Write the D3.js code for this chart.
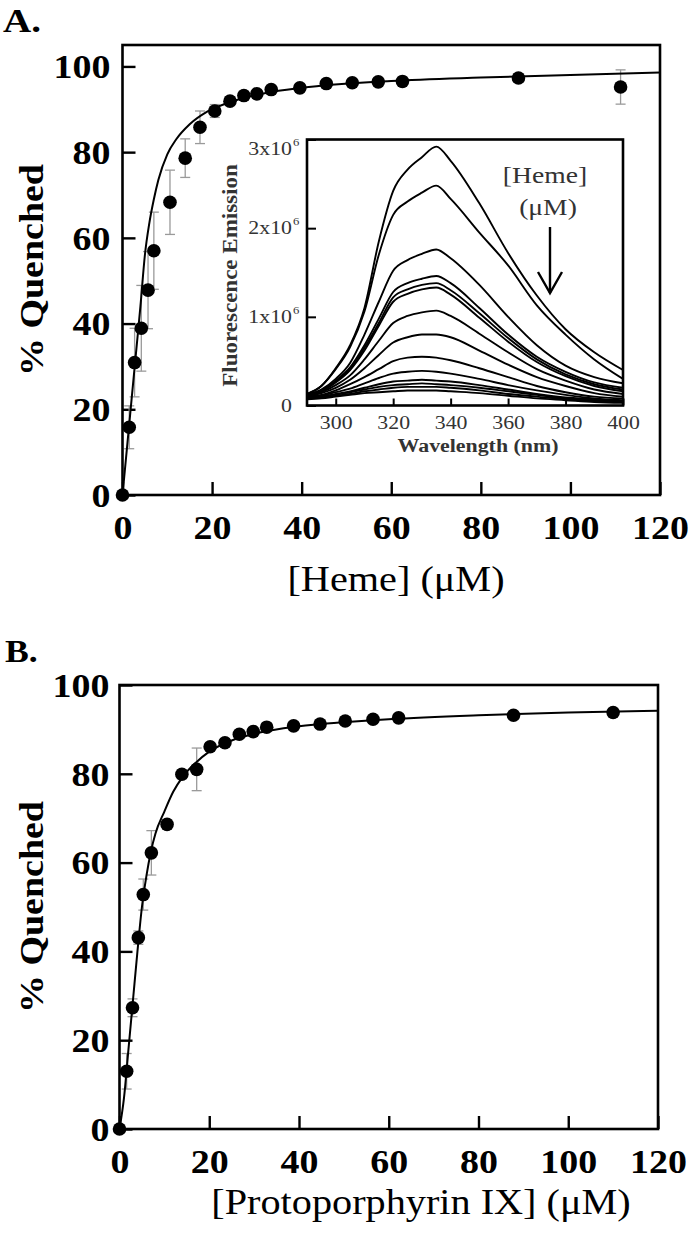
<!DOCTYPE html>
<html>
<head>
<meta charset="utf-8">
<script src="https://cdn.jsdelivr.net/npm/d3@7"></script>
<style>
  html, body { margin: 0; padding: 0; background: #fff; }
  svg { display: block; }
  text { font-family: "Liberation Serif", "Times New Roman", serif; }
</style>
</head>
<body>
<svg id="chart" width="693" height="1233"></svg>
<script>
// ---------------- DATA ----------------
// Panel A: heme titration
const hemeX   = [0, 1.5, 2.7, 4.2, 5.7, 7.0, 10.6, 14.0, 17.3, 20.6, 24.0, 27.1, 30.0, 33.2, 39.6, 45.5, 51.3, 57.1, 62.5, 88.4, 111.2];
const hemeY   = [0, 15.8, 30.9, 38.9, 47.8, 57.0, 68.3, 78.6, 85.8, 89.6, 91.9, 93.2, 93.6, 94.6, 95.0, 96.0, 96.2, 96.4, 96.5, 97.3, 95.2];
const hemeErr = [0, 5, 8, 10, 9, 9, 7.5, 4.5, 3.8, 1.5, 1, 1, 0.8, 0.8, 0.8, 0.8, 0.5, 0.5, 0.5, 1, 4];
// Panel A fitted curve
const hemeFitX = [0, 1, 2, 3, 4, 5, 6, 7, 8, 10, 12, 15, 19, 25, 32, 40, 60, 80, 100, 120];
const hemeFitY = [0, 11, 22, 33, 44, 56, 63.5, 69, 73.5, 79.5, 83, 86.5, 89.5, 92, 93.8, 95, 96.6, 97.4, 98, 98.6];

// Panel B: protoporphyrin IX titration
const ppX   = [0, 1.6, 2.9, 4.2, 5.3, 7.1, 10.6, 13.9, 17.2, 20.2, 23.5, 26.7, 29.8, 32.8, 38.8, 44.7, 50.3, 56.5, 62.2, 87.8, 110.0];
const ppY   = [0, 13, 27.3, 43.1, 52.8, 62.2, 68.6, 79.9, 81, 86.1, 87, 88.9, 89.5, 90.5, 90.8, 91.2, 91.9, 92.3, 92.6, 93.2, 93.8];
const ppErr = [0, 4, 2, 1.5, 3.5, 5, 1, 1, 4.8, 0.8, 0.8, 0.8, 0.8, 0.8, 0.8, 0.8, 0.8, 0.8, 0.8, 0.8, 0.8];
const ppFitX = [0, 1, 2, 3, 4, 5, 6, 7, 8, 10, 12, 14, 17, 20, 25, 30, 40, 50, 60, 80, 100, 120];
const ppFitY = [0, 7, 18, 29, 40, 50, 57, 62.5, 66.5, 71.5, 76, 79.2, 82.5, 85, 87.5, 89, 90.7, 91.6, 92.3, 93.2, 93.8, 94.2];

// Inset: fluorescence spectra (units of 10^6), one array per heme concentration
const wavelengths = [290, 295, 300, 305, 310, 315, 320, 325, 330, 335, 340, 350, 360, 370, 380, 390, 400];
const spec01 = [0.13, 0.22, 0.42, 0.68, 1.10, 1.85, 2.42, 2.66, 2.80, 2.92, 2.76, 2.28, 1.72, 1.24, 0.86, 0.60, 0.40];
const spec02 = [0.13, 0.22, 0.41, 0.66, 1.06, 1.70, 2.15, 2.30, 2.40, 2.48, 2.33, 1.95, 1.58, 1.13, 0.80, 0.52, 0.30];
const spec03 = [0.12, 0.18, 0.30, 0.48, 0.80, 1.17, 1.52, 1.64, 1.71, 1.76, 1.66, 1.36, 1.00, 0.68, 0.45, 0.32, 0.25];
const spec04 = [0.12, 0.17, 0.28, 0.43, 0.68, 0.98, 1.28, 1.38, 1.43, 1.46, 1.38, 1.10, 0.80, 0.55, 0.38, 0.26, 0.20];
const spec05 = [0.12, 0.17, 0.27, 0.41, 0.65, 0.93, 1.22, 1.31, 1.36, 1.38, 1.30, 1.04, 0.76, 0.52, 0.35, 0.24, 0.18];
const spec06 = [0.11, 0.16, 0.26, 0.40, 0.62, 0.90, 1.17, 1.26, 1.31, 1.33, 1.25, 0.99, 0.72, 0.49, 0.33, 0.22, 0.16];
const spec07 = [0.11, 0.15, 0.23, 0.34, 0.52, 0.73, 0.93, 1.01, 1.05, 1.07, 1.01, 0.81, 0.60, 0.41, 0.28, 0.18, 0.13];
const spec08 = [0.10, 0.14, 0.20, 0.29, 0.42, 0.57, 0.71, 0.77, 0.80, 0.80, 0.77, 0.62, 0.46, 0.32, 0.22, 0.14, 0.10];
const spec09 = [0.10, 0.12, 0.17, 0.24, 0.32, 0.41, 0.50, 0.54, 0.55, 0.54, 0.51, 0.42, 0.32, 0.22, 0.15, 0.10, 0.08];
const spec10 = [0.09, 0.11, 0.15, 0.19, 0.25, 0.31, 0.36, 0.38, 0.39, 0.38, 0.36, 0.30, 0.23, 0.17, 0.12, 0.08, 0.06];
const spec11 = [0.09, 0.10, 0.13, 0.16, 0.20, 0.24, 0.27, 0.28, 0.29, 0.28, 0.27, 0.23, 0.18, 0.13, 0.09, 0.07, 0.05];
const spec12 = [0.08, 0.10, 0.12, 0.15, 0.18, 0.21, 0.23, 0.24, 0.25, 0.24, 0.23, 0.20, 0.16, 0.12, 0.08, 0.06, 0.05];
const spec13 = [0.08, 0.09, 0.11, 0.13, 0.16, 0.18, 0.20, 0.21, 0.21, 0.21, 0.20, 0.17, 0.13, 0.10, 0.07, 0.05, 0.04];
const spec14 = [0.07, 0.08, 0.10, 0.12, 0.14, 0.15, 0.16, 0.17, 0.17, 0.17, 0.16, 0.14, 0.11, 0.08, 0.06, 0.04, 0.03];
const spectra = [spec01, spec02, spec03, spec04, spec05, spec06, spec07, spec08, spec09, spec10, spec11, spec12, spec13, spec14];

// Tick values / labels
const mainXTicks = [0, 20, 40, 60, 80, 100, 120];
const mainYTicks = [0, 20, 40, 60, 80, 100];
const insetXTicks = [300, 320, 340, 360, 380, 400];
const insetYTicks = [0, 1, 2, 3];
const insetYTickText = ["0", "1x10", "2x10", "3x10"];
const insetYTickSup  = ["", "6", "6", "6"];

// Texts
const labelA = "A.";
const labelB = "B.";
const yTitle = "% Quenched";
const xTitleA = "[Heme] (\u03bcM)";
const xTitleB = "[Protoporphyrin IX] (\u03bcM)";
const insetXTitle = "Wavelength (nm)";
const insetYTitle = "Fluorescence Emission";
const insetNote1 = "[Heme]";
const insetNote2 = "(\u03bcM)";

// ---------------- DRAW ----------------
const SX = 1.15; // horizontal stretch of the lettering
const svg = d3.select("#chart");

function stext(parent, x, y, str, size, weight, anchor, rot, fill) {
  const g = parent.append("g").attr("transform", `translate(${x},${y}) rotate(${rot || 0}) scale(${SX},1)`);
  return g.append("text").attr("x", 0).attr("y", 0)
    .attr("font-size", size).attr("font-weight", weight || "normal")
    .attr("text-anchor", anchor || "start").attr("fill", fill || "#000").text(str);
}

function mainPanel(cfg) {
  const g = svg.append("g");
  const x = d3.scaleLinear().domain([0, 120]).range([cfg.left, cfg.right]);
  const y = d3.scaleLinear().domain([0, cfg.ymax]).range([cfg.bottom, cfg.top]);

  // axes with inward ticks
  const ya = g.append("g").attr("transform", `translate(${cfg.left},0)`)
    .call(d3.axisLeft(y).tickValues(mainYTicks).tickSizeInner(-13).tickSizeOuter(0).tickFormat(d3.format("d")));
  const xa = g.append("g").attr("transform", `translate(0,${cfg.bottom})`)
    .call(d3.axisBottom(x).tickValues(mainXTicks).tickSizeInner(-13).tickSizeOuter(0).tickFormat(d3.format("d")));
  [ya, xa].forEach(a => {
    a.select(".domain").remove();
    a.selectAll(".tick line").attr("stroke", "#000").attr("stroke-width", 2.4);
    a.selectAll(".tick text").attr("font-family", "Liberation Serif, serif")
      .attr("font-size", 33).attr("font-weight", "bold").attr("fill", "#000")
      .attr("transform", `scale(${SX},1)`);
  });
  ya.selectAll(".tick text").attr("x", -cfg.ygap / SX).attr("dy", "0.34em");
  xa.selectAll(".tick text").attr("y", 44).attr("dy", 0);

  // frame
  g.append("rect").attr("x", cfg.left).attr("y", cfg.top)
    .attr("width", cfg.right - cfg.left).attr("height", cfg.bottom - cfg.top)
    .attr("fill", "none").attr("stroke", "#000").attr("stroke-width", 2.6);

  // error bars
  const eb = g.append("g").attr("stroke", "#9a9a9a").attr("stroke-width", 1.3);
  cfg.xs.forEach((xv, i) => {
    const e = cfg.err[i];
    if (!e) return;
    const cx = x(xv), y1 = y(cfg.ys[i] - e), y2 = y(cfg.ys[i] + e);
    eb.append("line").attr("x1", cx).attr("x2", cx).attr("y1", y1).attr("y2", y2);
    eb.append("line").attr("x1", cx - 5).attr("x2", cx + 5).attr("y1", y1).attr("y2", y1);
    eb.append("line").attr("x1", cx - 5).attr("x2", cx + 5).attr("y1", y2).attr("y2", y2);
  });

  // fit curve
  const line = d3.line().x(d => x(d[0])).y(d => y(d[1])).curve(d3.curveMonotoneX);
  g.append("path").datum(cfg.fitX.map((v, i) => [v, cfg.fitY[i]]))
    .attr("d", line).attr("fill", "none").attr("stroke", "#000").attr("stroke-width", 2);

  // points
  g.append("g").selectAll("circle").data(cfg.xs.map((v, i) => [v, cfg.ys[i]])).join("circle")
    .attr("cx", d => x(d[0])).attr("cy", d => y(d[1])).attr("r", 6.8).attr("fill", "#000");

  // titles
  stext(g, cfg.titleX, cfg.titleY, cfg.xTitle, 35, "normal", "middle");
  stext(g, 43, (cfg.top + cfg.bottom) / 2, yTitle, 33, "bold", "middle", -90);
  stext(g, cfg.labelX, cfg.labelY, cfg.label, cfg.labelSize, "bold", "start");
  return g;
}

mainPanel({left: 122.5, right: 660, top: 45, bottom: 495, ymax: 105, ygap: 12,
  xs: hemeX, ys: hemeY, err: hemeErr, fitX: hemeFitX, fitY: hemeFitY,
  xTitle: xTitleA, titleX: 396, titleY: 591, label: labelA, labelX: 3, labelY: 32, labelSize: 34});

mainPanel({left: 119.5, right: 658, top: 685, bottom: 1129, ymax: 100, ygap: 10,
  xs: ppX, ys: ppY, err: ppErr, fitX: ppFitX, fitY: ppFitY,
  xTitle: xTitleB, titleX: 421, titleY: 1214, label: labelB, labelX: 5, labelY: 662, labelSize: 31});

// ---------------- INSET ----------------
const ins = {left: 307, right: 623, top: 139.5, bottom: 405.5};
const gi = svg.append("g");
gi.append("rect").attr("x", ins.left).attr("y", ins.top).attr("width", ins.right - ins.left)
  .attr("height", ins.bottom - ins.top).attr("fill", "#fff");
const xi = d3.scaleLinear().domain([290, 400]).range([ins.left, ins.right]);
const yi = d3.scaleLinear().domain([0, 3]).range([ins.bottom, ins.top]);

gi.append("clipPath").attr("id", "insclip").append("rect")
  .attr("x", ins.left).attr("y", ins.top).attr("width", ins.right - ins.left).attr("height", ins.bottom - ins.top);
const specLine = d3.line().x((d, i) => xi(wavelengths[i])).y(d => yi(d)).curve(d3.curveMonotoneX);
gi.append("g").attr("clip-path", "url(#insclip)").selectAll("path").data(spectra).join("path")
  .attr("d", specLine).attr("fill", "none").attr("stroke", "#000").attr("stroke-width", 1.9);

const xia = gi.append("g").attr("transform", `translate(0,${ins.bottom})`)
  .call(d3.axisBottom(xi).tickValues(insetXTicks).tickSizeInner(-7).tickSizeOuter(0).tickFormat(d3.format("d")));
const yia = gi.append("g").attr("transform", `translate(${ins.left},0)`)
  .call(d3.axisLeft(yi).tickValues(insetYTicks).tickSizeInner(-9).tickSizeOuter(0).tickFormat(""));
[xia, yia].forEach(a => {
  a.select(".domain").remove();
  a.selectAll(".tick line").attr("stroke", "#000").attr("stroke-width", 2);
});
xia.selectAll(".tick text").attr("font-family", "Liberation Serif, serif").attr("font-size", 19)
  .attr("fill", "#333").attr("y", 24).attr("dy", 0).attr("transform", `scale(${SX},1)`);

// inset y tick labels (mantissa + superscript)
insetYTicks.forEach((v, i) => {
  const yy = Math.max(yi(v), ins.top + 9) + 6;
  stext(gi, 292, yy, insetYTickText[i], 19, "normal", "end", 0, "#333");
  if (insetYTickSup[i]) stext(gi, 293, yy - 9, insetYTickSup[i], 11, "normal", "start", 0, "#333");
});

gi.append("rect").attr("x", ins.left).attr("y", ins.top).attr("width", ins.right - ins.left)
  .attr("height", ins.bottom - ins.top).attr("fill", "none").attr("stroke", "#000").attr("stroke-width", 2.6);

stext(gi, 478, 452, insetXTitle, 19, "bold", "middle", 0, "#333");
stext(gi, 237, (ins.top + ins.bottom) / 2 + 3, insetYTitle, 20, "bold", "middle", -90, "#333");
stext(gi, 545, 183, insetNote1, 24, "normal", "middle", 0, "#333");
stext(gi, 548, 215, insetNote2, 24, "normal", "middle", 0, "#333");
// arrow
const arr = gi.append("g").attr("stroke", "#000").attr("stroke-width", 2.4).attr("fill", "none");
arr.append("line").attr("x1", 550).attr("x2", 550).attr("y1", 227).attr("y2", 293);
arr.append("polyline").attr("points", "538,272 550,293 562,272");
</script>
</body>
</html>
